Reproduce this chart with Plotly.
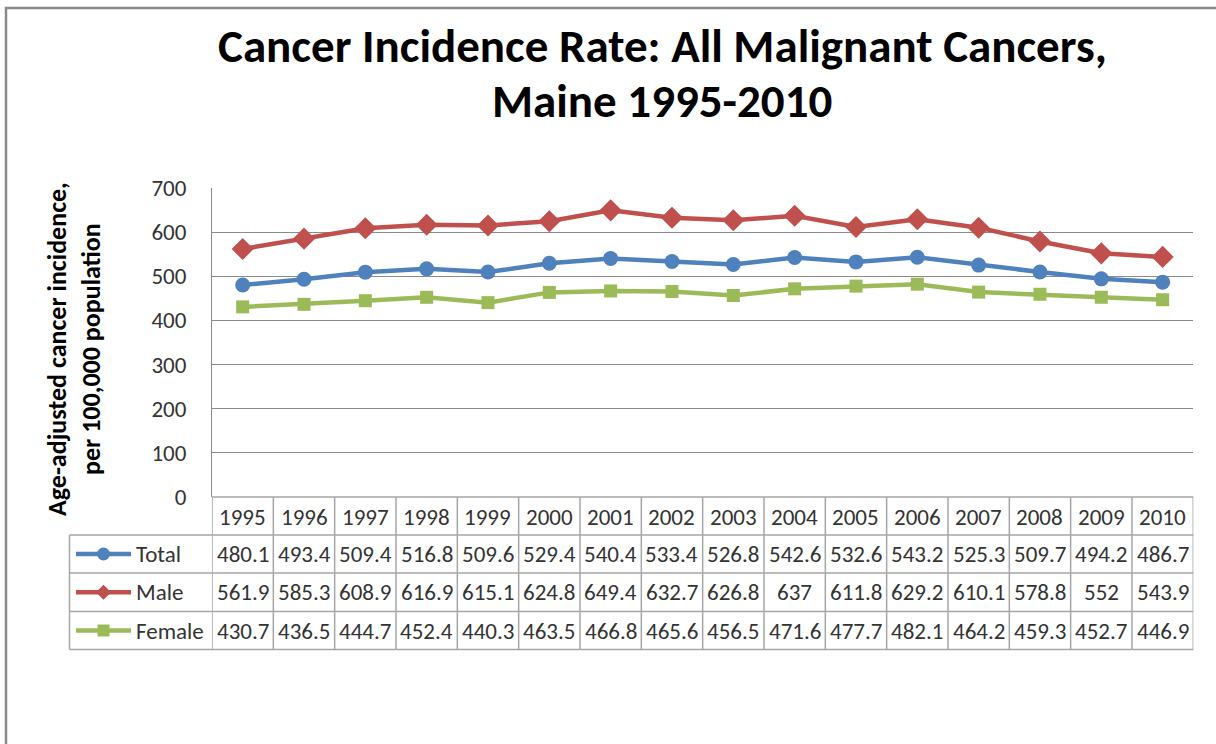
import plotly.graph_objects as go

years = ["1995", "1996", "1997", "1998", "1999", "2000", "2001", "2002",
         "2003", "2004", "2005", "2006", "2007", "2008", "2009", "2010"]
total = [480.1, 493.4, 509.4, 516.8, 509.6, 529.4, 540.4, 533.4,
         526.8, 542.6, 532.6, 543.2, 525.3, 509.7, 494.2, 486.7]
male = [561.9, 585.3, 608.9, 616.9, 615.1, 624.8, 649.4, 632.7,
        626.8, 637, 611.8, 629.2, 610.1, 578.8, 552, 543.9]
female = [430.7, 436.5, 444.7, 452.4, 440.3, 463.5, 466.8, 465.6,
          456.5, 471.6, 477.7, 482.1, 464.2, 459.3, 452.7, 446.9]
series_names = ["Total", "Male", "Female"]
y_ticks = [0, 100, 200, 300, 400, 500, 600, 700]

W, H = 1216, 744
FONT = "Carlito, Lato, sans-serif"
TXT = "#333333"
GRID = "#8c8c8c"
TBL = "#a6a6a6"
colors = {"Total": "#4F81BD", "Male": "#C0504D", "Female": "#9BBB59"}
symbols = {"Total": "circle", "Male": "diamond", "Female": "square"}
msize = {"Total": 15, "Male": 17, "Female": 13}
values = {"Total": total, "Male": male, "Female": female}


def px(x):
    return x / W


def py(y):
    return 1 - y / H


PL, PR, PT, PB = 212, 1193.3, 188, 497

fig = go.Figure()
for name in series_names:
    fig.add_trace(go.Scatter(
        x=list(range(len(years))), y=values[name], mode="lines+markers",
        name=name, line=dict(color=colors[name], width=4.5),
        marker=dict(symbol=symbols[name], size=msize[name], color=colors[name]),
        showlegend=False, hoverinfo="skip"))

shapes = []
annotations = []


def ann(**kw):
    d = dict(showarrow=False, xanchor="center", yanchor="middle")
    d.update(kw)
    annotations.append(d)


# outer frame
shapes.append(dict(type="rect", xref="paper", yref="paper",
                   x0=px(6), x1=px(1230), y0=py(8), y1=py(760),
                   line=dict(color="#8a8a8a", width=2.5), layer="below"))

# table geometry (pixel rows)
row_edges = [PB, 535, 573, 611.5, 649.5]
LBL_L = 69.5

for i, ye in enumerate(row_edges):
    x0 = PL if i == 0 else LBL_L
    shapes.append(dict(type="line", xref="paper", yref="paper",
                       x0=px(x0), x1=px(PR), y0=py(ye), y1=py(ye),
                       line=dict(color=TBL, width=1.5)))
for i in range(len(years) + 1):
    shapes.append(dict(type="line", xref="x", yref="paper",
                       x0=i - 0.5, x1=i - 0.5, y0=py(PB), y1=py(row_edges[-1]),
                       line=dict(color=TBL, width=1.5)))
shapes.append(dict(type="line", xref="paper", yref="paper",
                   x0=px(LBL_L), x1=px(LBL_L), y0=py(535), y1=py(row_edges[-1]),
                   line=dict(color=TBL, width=1.5)))

TSIZE = 23
for i, yr in enumerate(years):
    ann(x=i, xref="x", y=py((row_edges[0] + row_edges[1]) / 2 + 1), yref="paper",
        text=yr, font=dict(family=FONT, size=TSIZE, color=TXT))

for r, name in enumerate(series_names):
    yc = (row_edges[r + 1] + row_edges[r + 2]) / 2
    for i, v in enumerate(values[name]):
        ann(x=i, xref="x", y=py(yc), yref="paper", text=f"{v:g}",
            font=dict(family=FONT, size=TSIZE, color=TXT))
    c = colors[name]
    shapes.append(dict(type="line", xref="paper", yref="paper",
                       x0=px(76), x1=px(131), y0=py(yc), y1=py(yc),
                       line=dict(color=c, width=4.5)))
    mx = 103.5
    if name == "Total":
        rr = 6.5
        shapes.append(dict(type="circle", xref="paper", yref="paper",
                           x0=px(mx - rr), x1=px(mx + rr), y0=py(yc - rr), y1=py(yc + rr),
                           fillcolor=c, line=dict(color=c, width=0)))
    elif name == "Male":
        d = 7.5
        path = (f"M {px(mx - d)},{py(yc)} L {px(mx)},{py(yc - d)} "
                f"L {px(mx + d)},{py(yc)} L {px(mx)},{py(yc + d)} Z")
        shapes.append(dict(type="path", xref="paper", yref="paper", path=path,
                           fillcolor=c, line=dict(color=c, width=0)))
    else:
        s = 6
        shapes.append(dict(type="rect", xref="paper", yref="paper",
                           x0=px(mx - s), x1=px(mx + s), y0=py(yc - s), y1=py(yc + s),
                           fillcolor=c, line=dict(color=c, width=0)))
    ann(x=px(134), xref="paper", y=py(yc), yref="paper", text=name, xanchor="left",
        font=dict(family=FONT, size=TSIZE, color=TXT))

# title (two lines)
for txt, yy in [("Cancer Incidence Rate: All Malignant Cancers,", 46),
                ("Maine 1995-2010", 101)]:
    ann(x=px(662), y=py(yy), xref="paper", yref="paper", text=f"<b>{txt}</b>",
        font=dict(family=FONT, size=47, color="#000000"))
# y axis title (two lines)
for txt, xx in [("Age-adjusted cancer incidence,", 57), ("per 100,000 population", 91)]:
    ann(x=px(xx), y=py(349), xref="paper", yref="paper", text=f"<b>{txt}</b>",
        textangle=-90, font=dict(family=FONT, size=26, color="#000000"))

fig.update_layout(
    width=W, height=H, autosize=False,
    margin=dict(l=0, r=0, t=0, b=0, autoexpand=False),
    paper_bgcolor="white", plot_bgcolor="white",
    shapes=shapes, annotations=annotations,
    xaxis=dict(domain=[px(PL), px(PR)], range=[-0.5, len(years) - 0.5],
               showticklabels=False, showgrid=False, zeroline=False,
               showline=False, ticks="", automargin=False),
    yaxis=dict(domain=[py(PB), py(PT)], range=[0, 700], tickvals=y_ticks,
               showgrid=True, gridcolor=GRID, gridwidth=1, zeroline=False,
               showline=True, linecolor=GRID, linewidth=1, ticks="",
               ticklabelstandoff=20, automargin=False,
               tickfont=dict(family=FONT, size=23, color=TXT)),
)

fig.write_html("out.html", config={"displayModeBar": False},
               post_script="document.body.style.margin='0';")
